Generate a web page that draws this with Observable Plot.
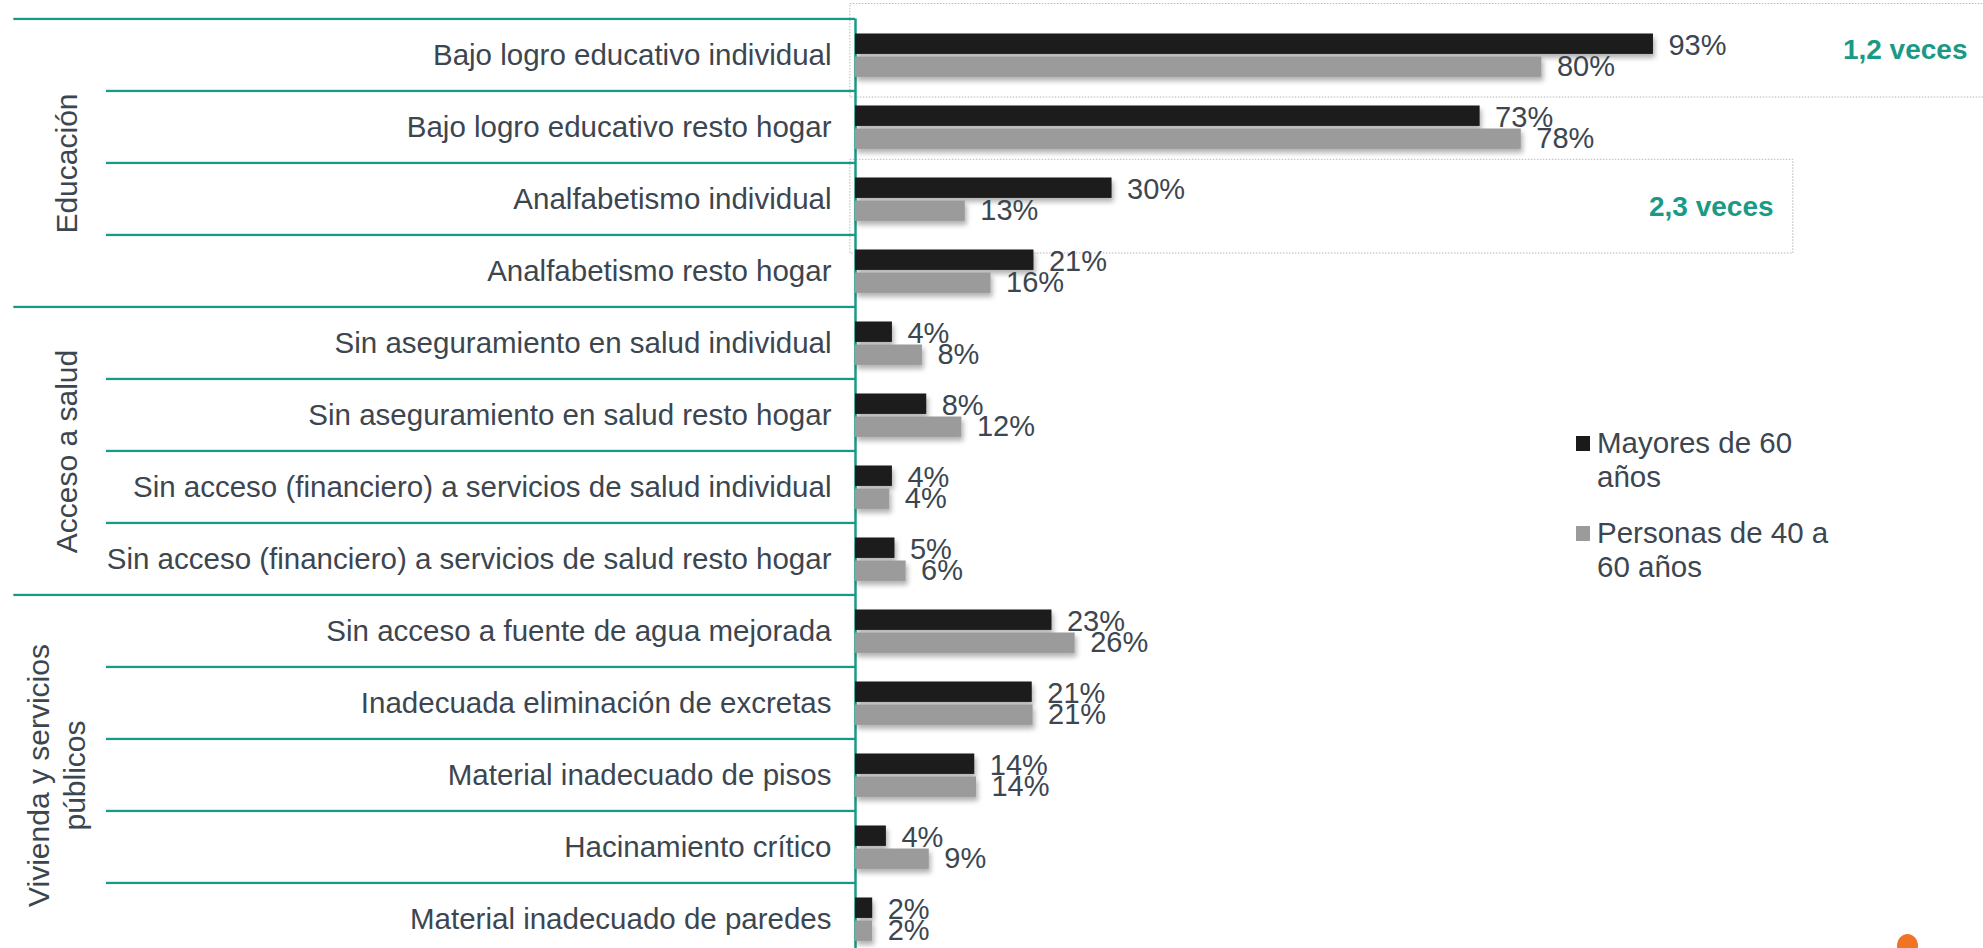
<!DOCTYPE html>
<html>
<head>
<meta charset="utf-8">
<script src="https://cdn.jsdelivr.net/npm/d3@7"></script>
<script src="https://cdn.jsdelivr.net/npm/@observablehq/plot@0.6"></script>
<style>
  html, body { margin: 0; padding: 0; background: #fff; }
  #wrap { position: relative; width: 1983px; height: 948px; overflow: hidden; font-family: "Liberation Sans", Arial, sans-serif; }
  #legend { position: absolute; left: 1576px; top: 426px; color: #3c4650; font-size: 29.5px; line-height: 34px; }
  .item { position: relative; padding-left: 21px; margin-bottom: 22px; white-space: nowrap; }
  .sw { position: absolute; left: 0; top: 10px; width: 14px; height: 15px; }
  #dot { position: absolute; left: 1897px; top: 934px; width: 21px; height: 24px; border-radius: 50%; background: #f07326; }
</style>
</head>
<body>
<div id="wrap"></div>
<script>
const categories = [
  "Bajo logro educativo individual",
  "Bajo logro educativo resto hogar",
  "Analfabetismo individual",
  "Analfabetismo resto hogar",
  "Sin aseguramiento en salud individual",
  "Sin aseguramiento en salud resto hogar",
  "Sin acceso (financiero) a servicios de salud individual",
  "Sin acceso (financiero) a servicios de salud resto hogar",
  "Sin acceso a fuente de agua mejorada",
  "Inadecuada eliminación de excretas",
  "Material inadecuado de pisos",
  "Hacinamiento crítico",
  "Material inadecuado de paredes"
];
const mayores  = [93.0, 72.8, 29.9, 20.8, 4.3, 8.3, 4.3, 4.6, 22.9, 20.6, 13.9, 3.6, 2.0];
const personas = [80.0, 77.6, 12.8, 15.8, 7.8, 12.4, 4.0, 5.9, 25.6, 20.7, 14.1, 8.6, 2.0];
const seriesNames = ["Mayores de 60 años", "Personas de 40 a 60 años"];
const groupNames = ["Educación", "Acceso a salud", "Vivienda y servicios\npúblicos"];
const groupStarts = [0, 4, 8];
const annotations = ["1,2 veces", "2,3 veces"];

const teal = "#1a9a86";
const textColor = "#3c4650";
const colors = ["#1a1a1a", "#9b9b9b"];
const band = 72.1;
const top0 = 18.5;

const rowsA = categories.map((c, i) => ({cat: c, value: mayores[i]}));
const rowsB = categories.map((c, i) => ({cat: c, value: personas[i]}));
const rowSeps = categories.filter((c, i) => i > 0 && !groupStarts.includes(i));
const groupSeps = groupStarts.map(i => categories[i]);

const fontSize = 29;
const labelSize = 29.5;
const groupSize = 30;

const plot = Plot.plot({
  width: 1983,
  height: 948,
  marginTop: top0,
  marginBottom: 0,
  marginLeft: 0,
  marginRight: 0,
  style: {fontFamily: "'Liberation Sans', Arial, sans-serif", background: "transparent", overflow: "visible"},
  x: {domain: [0, 100], range: [855, 1713], axis: null},
  y: {domain: categories, range: [top0, top0 + band * categories.length], padding: 0, axis: null},
  marks: [
    // dotted highlight boxes
    Plot.barX([categories[0]], {x1: -0.6, x2: 160, y: d => d, insetTop: -15.5, insetBottom: -6, fill: "none", stroke: "#b8b8b8", strokeWidth: 1, strokeDasharray: "1.5,1.5"}),
    Plot.barX([categories[2]], {x1: -0.6, x2: 109.3, y: d => d, insetTop: -3.7, insetBottom: -18, fill: "none", stroke: "#b8b8b8", strokeWidth: 1, strokeDasharray: "1.5,1.5"}),
    // separators
    Plot.barX(rowSeps, {x1: -87.3, x2: 0, y: d => d, insetTop: -1.2, insetBottom: band - 1.2, fill: teal}),
    Plot.barX(groupSeps, {x1: -98.1, x2: 0, y: d => d, insetTop: -1.2, insetBottom: band - 1.2, fill: teal}),
    Plot.ruleX([0], {stroke: teal, strokeWidth: 2.5}),
    // bars
    Plot.barX(rowsA, {x: "value", y: "cat", fill: colors[0], insetTop: 14.5, insetBottom: band - 14.5 - 20.5}),
    Plot.barX(rowsB, {x: "value", y: "cat", fill: colors[1], insetTop: 37.5, insetBottom: band - 37.5 - 20.5}),
    // value labels
    Plot.text(rowsA, {x: "value", y: "cat", text: d => Math.round(d.value) + "%", textAnchor: "start", dx: 15, dy: -10, fontSize, fill: textColor}),
    Plot.text(rowsB, {x: "value", y: "cat", text: d => Math.round(d.value) + "%", textAnchor: "start", dx: 15, dy: 11, fontSize, fill: textColor}),
    // category labels
    Plot.text(categories, {x: 0, y: d => d, text: d => d, textAnchor: "end", dx: -24, fontSize: labelSize, fill: textColor}),
    // group labels
    Plot.text([0, 1], {x: -91.9, y: i => categories[groupStarts[i] + 1], text: i => groupNames[i], rotate: -90, dy: band / 2, fontSize: groupSize, fill: textColor}),
    Plot.text([2], {x: -93.2, y: i => categories[10], text: i => groupNames[i], rotate: -90, fontSize: groupSize, lineHeight: 1.2, fill: textColor}),
    // annotations
    Plot.text([annotations[0]], {x: 129.6, y: () => categories[0], text: d => d, textAnchor: "end", dy: -5, fontSize: 28, fontWeight: "bold", fill: teal}),
    Plot.text([annotations[1]], {x: 107.0, y: () => categories[2], text: d => d, textAnchor: "end", dy: 8, fontSize: 28, fontWeight: "bold", fill: teal})
  ]
});

// drop shadow on data bars
const svg = d3.select(plot);
const defs = svg.insert("defs", ":first-child");
const f = defs.append("filter").attr("id", "sh").attr("x", "-5%").attr("y", "-30%").attr("width", "115%").attr("height", "190%");
f.append("feDropShadow").attr("dx", 2).attr("dy", 4).attr("stdDeviation", 2.5).attr("flood-color", "#000").attr("flood-opacity", 0.3);
svg.selectAll('g[aria-label="bar"]').filter(function() {
  const fl = this.getAttribute("fill");
  return fl === colors[0] || fl === colors[1];
}).attr("filter", "url(#sh)");

const wrap = document.getElementById("wrap");
wrap.appendChild(plot);

const legend = document.createElement("div");
legend.id = "legend";
const legendLines = [["Mayores de 60", "años"], ["Personas de 40 a", "60 años"]];
legendLines.forEach((lines, i) => {
  const it = document.createElement("div");
  it.className = "item";
  const sw = document.createElement("span");
  sw.className = "sw";
  sw.style.background = colors[i];
  it.appendChild(sw);
  lines.forEach((l, j) => {
    it.appendChild(document.createTextNode(l));
    if (j < lines.length - 1) it.appendChild(document.createElement("br"));
  });
  legend.appendChild(it);
});
wrap.appendChild(legend);

const dot = document.createElement("div");
dot.id = "dot";
wrap.appendChild(dot);
</script>
</body>
</html>
